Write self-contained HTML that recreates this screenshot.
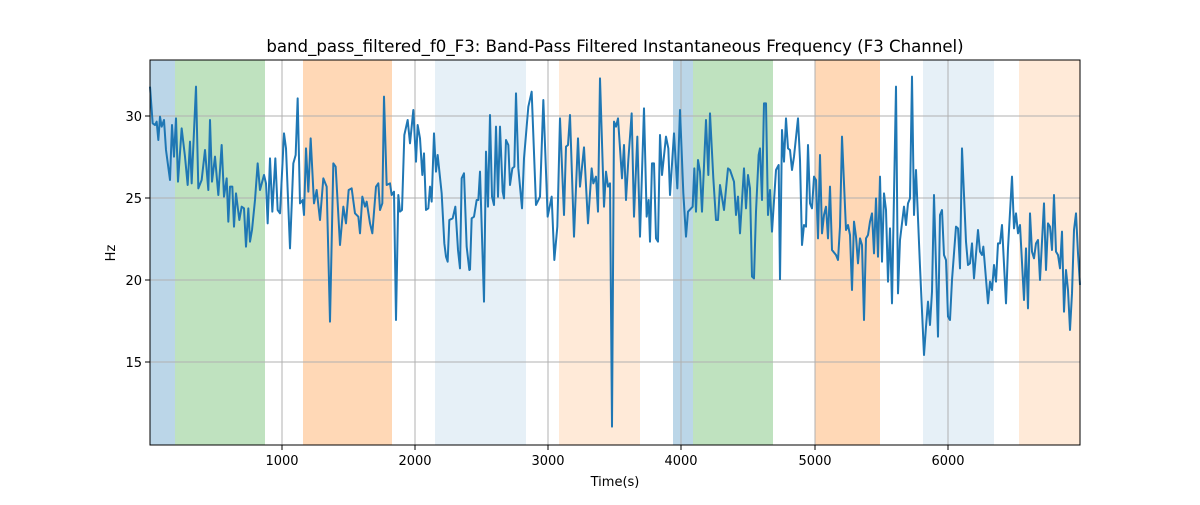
<!DOCTYPE html>
<html><head><meta charset="utf-8"><style>
body{margin:0;background:#fff}
svg text{font-family:"DejaVu Sans","Liberation Sans",sans-serif;fill:#000}
</style></head><body>
<svg width="1200" height="500" viewBox="0 0 1200 500" xmlns="http://www.w3.org/2000/svg">
<rect width="1200" height="500" fill="#fff"/>
<g>
<rect x="150" y="60" width="25" height="385" fill="#1f77b4" fill-opacity="0.3"/>
<rect x="175" y="60" width="90" height="385" fill="#2ca02c" fill-opacity="0.3"/>
<rect x="303" y="60" width="89" height="385" fill="#ff7f0e" fill-opacity="0.3"/>
<rect x="435" y="60" width="91" height="385" fill="#1f77b4" fill-opacity="0.11"/>
<rect x="559" y="60" width="81" height="385" fill="#ff7f0e" fill-opacity="0.16"/>
<rect x="673" y="60" width="20" height="385" fill="#1f77b4" fill-opacity="0.3"/>
<rect x="693" y="60" width="80" height="385" fill="#2ca02c" fill-opacity="0.3"/>
<rect x="815" y="60" width="65" height="385" fill="#ff7f0e" fill-opacity="0.3"/>
<rect x="923" y="60" width="71" height="385" fill="#1f77b4" fill-opacity="0.11"/>
<rect x="1019" y="60" width="61" height="385" fill="#ff7f0e" fill-opacity="0.16"/>
</g>
<g stroke="#b0b0b0" stroke-width="1">
<line x1="282" y1="60" x2="282" y2="445"/><line x1="415" y1="60" x2="415" y2="445"/>
<line x1="548" y1="60" x2="548" y2="445"/><line x1="681" y1="60" x2="681" y2="445"/>
<line x1="815" y1="60" x2="815" y2="445"/><line x1="948" y1="60" x2="948" y2="445"/>
<line x1="150" y1="116" x2="1080" y2="116"/><line x1="150" y1="198" x2="1080" y2="198"/>
<line x1="150" y1="280" x2="1080" y2="280"/><line x1="150" y1="362" x2="1080" y2="362"/>
</g>
<g fill="none" stroke="#1f77b4" stroke-width="2" stroke-linejoin="round">
<polyline vector-effect="non-scaling-stroke" transform="translate(150,60) scale(0.33333)" points="0,80 8,190 15,195 20,185 25,240 30,170 35,200 42,180 48,270 60,360 66,195 72,290 78,175 84,365 95,205 105,290 113,375 120,245 125,370 138,80 145,385 155,360 165,270 175,390 180,180 186,365 195,290 205,405 215,255 222,410 230,355 235,485 240,380 247,380 252,500 258,400 268,480 275,440 282,445 288,560 295,445 300,545 306,510 315,420 323,310 330,390 342,345 348,370 353,490 360,295 367,455 376,295 383,450 390,460 402,220 408,265 420,565 430,310 437,285 443,115 450,430 458,420 462,465 468,265 475,395 482,235 492,430 500,390 510,480 520,355 530,380 540,785 550,310 557,320 570,555 580,440 588,490 596,390 605,385 615,460 625,470 630,520 637,410 645,440 650,425 660,490 667,520 678,380 685,370 690,450 697,430 702,110 710,375 720,370 725,405 732,395 738,780 745,405 750,455 756,450 763,225 773,180 780,250 790,150 798,305 803,195 810,235 817,345 822,280 828,450 835,445 840,380 845,425 852,220 858,335 863,285 875,400 883,550 888,590 893,605 898,480 908,475 916,440 924,570 930,625 935,355 942,340 950,560 958,630 961,630"/>
<polyline vector-effect="non-scaling-stroke" transform="translate(460,60) scale(0.33333)" points="30,630 35,475 42,470 50,420 55,420 60,335 72,725 78,275 84,440 90,165 96,410 102,435 108,200 114,410 120,200 128,395 132,415 138,240 145,255 150,375 157,325 163,320 168,100 175,325 186,445 192,295 205,140 215,95 228,435 240,410 250,120 263,470 275,410 283,600 292,500 300,175 312,465 318,260 324,255 330,165 342,530 354,235 360,380 372,262 384,490 395,325 400,370 408,350 414,455 420,55 432,440 438,335 444,380 450,370 456,1100 462,185 468,200 474,175 486,355 492,255 498,420 505,300 515,160 522,470 532,230 540,530 552,145 560,470 566,420 570,545 576,310 582,310 588,535 594,545 600,225 606,345 618,230 625,265 630,405 642,220 652,385 660,150 670,400 678,530 684,455 698,440 703,325 708,455 714,300 720,335 726,455 738,180 745,345 750,160 760,355 768,480 774,480 780,375 792,450 804,325 810,330 822,365 828,465 834,410 840,520 852,325 858,445 864,345 870,385 876,650 882,655 888,455 896,285 900,265 906,420 912,130 918,130 924,465 930,390 936,515 948,330 956,315 960,660"/>
<polyline vector-effect="non-scaling-stroke" transform="translate(770,60) scale(0.33333)" points="30,660 36,210 42,305 48,175 54,265 60,270 66,330 72,290 84,175 90,300 96,555 102,495 108,500 114,255 120,430 126,445 132,350 138,360 144,535 150,285 156,520 162,465 168,440 174,535 180,380 186,570 198,585 204,600 210,500 216,230 228,510 234,495 240,525 246,690 252,485 258,530 264,610 270,535 276,555 282,780 288,535 294,525 300,485 306,460 312,580 318,415 324,590 330,350 336,605 342,400 348,450 354,665 360,505 366,730 378,80 384,700 390,540 402,440 408,495 414,430 420,415 426,50 432,465 438,330 450,620 462,885 468,800 474,725 480,795 486,695 492,405 504,830 510,465 516,450 522,585 528,600 534,770 540,780 546,660 558,500 564,505 570,625 576,265 588,545 594,615 600,610 606,550 612,655 624,510 630,575 636,585 640,560 654,730 660,665 666,690 672,615 678,665 684,550 690,550 696,495 708,730 714,565 726,350 732,505 738,460 744,520 750,495 762,720 768,565 774,745 780,460 786,575 792,595 798,550 804,540 810,660 822,430 828,630 834,490 840,500 846,570 852,405 858,575 864,585 870,625 876,515 882,755 888,630 894,690 900,810 906,700 912,510 918,460 924,580 930,675"/>
</g>
<rect x="150" y="60" width="930" height="385" fill="none" stroke="#000" stroke-width="1"/>
<g stroke="#000" stroke-width="1">
<line x1="282" y1="445" x2="282" y2="450"/><line x1="415" y1="445" x2="415" y2="450"/>
<line x1="548" y1="445" x2="548" y2="450"/><line x1="681" y1="445" x2="681" y2="450"/>
<line x1="815" y1="445" x2="815" y2="450"/><line x1="948" y1="445" x2="948" y2="450"/>
<line x1="145" y1="116" x2="150" y2="116"/><line x1="145" y1="198" x2="150" y2="198"/>
<line x1="145" y1="280" x2="150" y2="280"/><line x1="145" y1="362" x2="150" y2="362"/>
</g>
<g font-size="13" text-anchor="middle">
<text x="282" y="465">1000</text><text x="415" y="465">2000</text><text x="548" y="465">3000</text>
<text x="681" y="465">4000</text><text x="815" y="465">5000</text><text x="948" y="465">6000</text>
</g>
<g font-size="13" text-anchor="end">
<text x="142" y="121">30</text><text x="142" y="203">25</text><text x="142" y="285">20</text><text x="142" y="367">15</text>
</g>
<text x="615" y="486" font-size="13" text-anchor="middle">Time(s)</text>
<text x="115" y="253" font-size="13" text-anchor="middle" transform="rotate(-90 115 253)">Hz</text>
<text x="615" y="52" font-size="16.6" text-anchor="middle">band_pass_filtered_f0_F3: Band-Pass Filtered Instantaneous Frequency (F3 Channel)</text>
</svg>
</body></html>
